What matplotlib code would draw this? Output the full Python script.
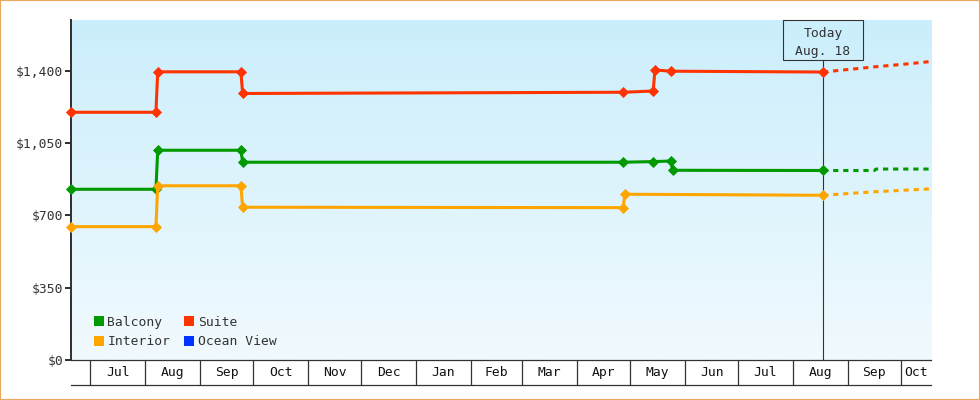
import numpy as np
import pandas as pd
import matplotlib
matplotlib.use('Agg')
import matplotlib.pyplot as plt
from matplotlib.colors import LinearSegmentedColormap
from matplotlib.lines import Line2D
from matplotlib.patches import Rectangle
from matplotlib.transforms import blended_transform_factory

# observed prices
suite_dates = ['2023-06-20', '2023-08-07', '2023-08-08', '2023-09-24', '2023-09-25',
               '2024-04-27', '2024-05-14', '2024-05-15', '2024-05-24', '2024-08-18']
suite_prices = [1200, 1200, 1396, 1396, 1291, 1297, 1303, 1405, 1399, 1395]

balcony_dates = ['2023-06-20', '2023-08-07', '2023-08-08', '2023-09-24', '2023-09-25',
                 '2024-04-27', '2024-05-14', '2024-05-24', '2024-05-25', '2024-08-18']
balcony_prices = [827, 827, 1016, 1016, 958, 958, 961, 964, 919, 918]

interior_dates = ['2023-06-20', '2023-08-07', '2023-08-08', '2023-09-24', '2023-09-25',
                  '2024-04-27', '2024-04-28', '2024-08-18']
interior_prices = [646, 646, 844, 844, 740, 738, 803, 798]

ocean_dates = []
ocean_prices = []

# forecast (dashed)
suite_fc_dates = ['2024-08-18', '2024-09-16', '2024-10-03', '2024-10-18']
suite_fc_prices = [1395, 1420, 1433, 1446]
balcony_fc_dates = ['2024-08-18', '2024-09-16', '2024-09-17', '2024-10-18']
balcony_fc_prices = [918, 918, 925, 925]
interior_fc_dates = ['2024-08-18', '2024-09-16', '2024-10-18']
interior_fc_prices = [798, 815, 829]
ocean_fc_dates = []
ocean_fc_prices = []

y_ticks = [0, 350, 700, 1050, 1400]
y_tick_labels = ['$0', '$350', '$700', '$1,050', '$1,400']
x_start, x_end = '2023-06-20', '2024-10-18'
y_max = 1647
today = '2024-08-18'

colors = {'Balcony': '#009900', 'Interior': '#ffa500', 'Suite': '#ff3300', 'Ocean View': '#0033ff'}
ink = '#333333'
fs = 9.4

plt.rcParams['font.family'] = ['DejaVu Sans Mono']

fig = plt.figure(figsize=(9.8, 4), dpi=100)
ax = fig.add_axes([71 / 980, 40 / 400, 860 / 980, 340 / 400])
bx = fig.add_axes([71 / 980, 15 / 400, 860 / 980, 25 / 400])

x0, x1 = pd.Timestamp(x_start), pd.Timestamp(x_end)

# background gradient
cmap = LinearSegmentedColormap.from_list('bg', ['#cbeefc', '#f1fafe'])
ax.imshow(np.linspace(0, 1, 256).reshape(-1, 1), cmap=cmap, aspect='auto',
          extent=[0, 1, 0, 1], transform=ax.transAxes, zorder=0)

series = [
    ('Balcony', balcony_dates, balcony_prices, balcony_fc_dates, balcony_fc_prices),
    ('Interior', interior_dates, interior_prices, interior_fc_dates, interior_fc_prices),
    ('Suite', suite_dates, suite_prices, suite_fc_dates, suite_fc_prices),
    ('Ocean View', ocean_dates, ocean_prices, ocean_fc_dates, ocean_fc_prices),
]
for name, d, p, fd, fp in series:
    c = colors[name]
    if d:
        ax.plot(pd.to_datetime(d), p, color=c, lw=2.2, marker='D', ms=5.4, mew=0.6,
                clip_on=False, zorder=3)
    if fd:
        ax.plot(pd.to_datetime(fd), fp, color=c, lw=2.2, dashes=(1.7, 1.6),
                clip_on=False, zorder=3)

ax.set_xlim(x0, x1)
ax.set_ylim(0, y_max)
ax.set_yticks(y_ticks, y_tick_labels)
ax.tick_params(axis='y', length=4.3, width=1.44, color=ink, pad=1.4,
               labelsize=fs, labelcolor=ink)
ax.tick_params(axis='x', bottom=False, labelbottom=False)
for s in ['top', 'right', 'bottom']:
    ax.spines[s].set_visible(False)
ax.spines['left'].set_linewidth(1.44)
ax.spines['left'].set_color(ink)

# today marker
t = pd.Timestamp(today)
box_bottom = 0.8815
ax.axvline(t, ymin=0, ymax=box_bottom, color=ink, lw=0.8, zorder=2)
tr = blended_transform_factory(ax.transData, ax.transAxes)
half = pd.Timedelta(days=22.4)
ax.add_patch(Rectangle((t - half, box_bottom), 2 * half, 1 - box_bottom,
                       transform=tr, fill=False, ec=ink, lw=0.8, clip_on=False, zorder=4))
ax.text(t, 0.95, 'Today', transform=tr, ha='center', va='baseline', fontsize=fs, color=ink)
ax.text(t, 0.8985, 'Aug. 18', transform=tr, ha='center', va='baseline', fontsize=fs, color=ink)

# legend
handles = [Line2D([], [], ls='none', marker='s', ms=7.9, mew=0, mfc=colors[n], label=n)
           for n in ['Balcony', 'Interior', 'Suite', 'Ocean View']]
ax.legend(handles=handles, ncol=2, loc='lower left', bbox_to_anchor=(0.0255, 0.035),
          frameon=False, fontsize=fs, handlelength=0.9, handletextpad=0.2,
          columnspacing=1.0, labelspacing=0.48, borderpad=0, borderaxespad=0,
          labelcolor=ink)

# month band under the plot
bx.set_xlim(x0, x1)
bx.set_ylim(0, 1)
bx.set_xticks([])
bx.set_yticks([])
for s in ['left', 'right']:
    bx.spines[s].set_visible(False)
for s in ['top', 'bottom']:
    bx.spines[s].set_linewidth(0.9)
    bx.spines[s].set_color(ink)
months = pd.date_range(x0, x1, freq='MS')
bx.vlines(months, 0, 1, color=ink, lw=0.9)
for m in months:
    a = max(m, x0)
    b = min(m + pd.offsets.MonthBegin(1), x1)
    if (b - a).days >= 15:
        bx.text(a + (b - a) / 2, 0.5, m.strftime('%b'), ha='center', va='center',
                fontsize=fs, color='#111111')

fig.add_artist(Rectangle((0, 0), 1, 1, transform=fig.transFigure, fill=False,
                         ec='#e8a860', lw=1.5))

fig.savefig('out.png', dpi=100)
